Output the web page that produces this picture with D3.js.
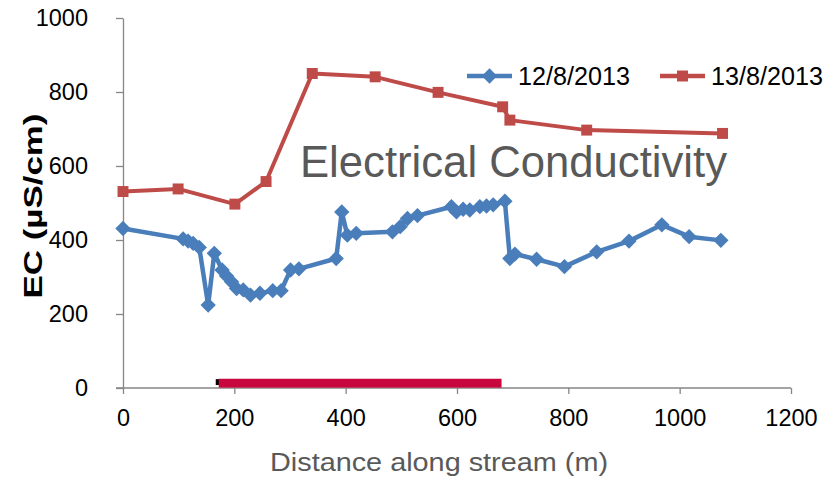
<!DOCTYPE html>
<html>
<head>
<meta charset="utf-8">
<script src="https://cdn.jsdelivr.net/npm/d3@7"></script>
<style>
  body { margin: 0; background: #fff; }
  svg { display: block; font-family: "Liberation Sans", Arial, sans-serif; }
</style>
</head>
<body>
<div id="chart"></div>
<script>
// distance along stream (m) and EC (uS/cm)
const dist1 = [0, 108, 117, 126, 137, 153, 164, 178, 186, 195, 204, 216, 229, 246, 269, 284, 301, 316, 383, 393, 403, 419, 484, 498, 511, 529, 590, 599, 611, 623, 641, 653, 665, 686, 695, 704, 743, 793, 851, 909, 968, 1017, 1074];
const ec1   = [431, 403, 397, 391, 380, 224, 364, 319, 303, 287, 269, 265, 251, 256, 263, 263, 319, 322, 350, 476, 413, 418, 422, 436, 458, 466, 490, 476, 483, 481, 490, 492, 495, 505, 350, 362, 348, 328, 368, 397, 441, 409, 399];
const dist2 = [0, 99, 201, 257, 340, 453, 566, 682, 695, 833, 1077];
const ec2   = [531, 538, 497, 558, 850, 841, 799, 760, 724, 697, 688];
const seriesNames = ["12/8/2013", "13/8/2013"];
const xTicks = [0, 200, 400, 600, 800, 1000, 1200];
const yTicks = [0, 200, 400, 600, 800, 1000];
const reach = [172, 680]; // highlighted stretch on the x axis

const width = 839, height = 478;
const margin = {top: 18, right: 48, bottom: 90, left: 123};
const blue = "#4A7EBB", red = "#BE4B48";

const svg = d3.select("#chart").append("svg")
  .attr("width", width).attr("height", height);

const x = d3.scaleLinear().domain([0, 1200]).range([margin.left, width - margin.right]);
const y = d3.scaleLinear().domain([0, 1000]).range([height - margin.bottom, margin.top]);

// axes
const xAxis = svg.append("g")
  .attr("transform", `translate(0,${y(0)})`)
  .call(d3.axisBottom(x).tickValues(xTicks).tickFormat(d3.format("d"))
    .tickSize(6).tickSizeOuter(0).tickPadding(15));
const yAxis = svg.append("g")
  .attr("transform", `translate(${x(0)},0)`)
  .call(d3.axisLeft(y).tickValues(yTicks).tickFormat(d3.format("d"))
    .tickSize(7).tickSizeOuter(0).tickPadding(28));

[xAxis, yAxis].forEach(a => {
  a.select(".domain").attr("stroke", "#868686").attr("stroke-width", 1.3);
  a.selectAll(".tick line").attr("stroke", "#868686").attr("stroke-width", 1.3);
  a.selectAll(".tick text").attr("fill", "#000").style("font-size", "23.5px");
});
// axis line reaches past the y axis like in excel
xAxis.select(".domain").attr("d", `M${-7 + x(0)},0H${x(1200)}`);

// highlighted reach
svg.append("rect")
  .attr("x", x(reach[0]) - 3).attr("y", y(24)).attr("width", 4).attr("height", y(8) - y(24))
  .attr("fill", "#000");
svg.append("rect")
  .attr("x", x(reach[0])).attr("y", y(25))
  .attr("width", x(reach[1]) - x(reach[0])).attr("height", y(1) - y(25))
  .attr("fill", "#C8073E");

// title inside the plot
svg.append("text")
  .attr("x", 300).attr("y", 177)
  .attr("textLength", 427).attr("lengthAdjust", "spacingAndGlyphs")
  .style("font-size", "44px").attr("fill", "#595959")
  .text("Electrical Conductivity");

const line = d3.line().x(d => x(d[0])).y(d => y(d[1]));
const pts1 = dist1.map((d, i) => [d, ec1[i]]);
const pts2 = dist2.map((d, i) => [d, ec2[i]]);

const diamond = d3.symbol().type(d3.symbolDiamond2).size(150);
const square = d3.symbol().type(d3.symbolSquare).size(120);

svg.append("path").datum(pts2).attr("d", line)
  .attr("fill", "none").attr("stroke", red).attr("stroke-width", 4).attr("stroke-linejoin", "round");
svg.append("g").selectAll("path").data(pts2).join("path")
  .attr("transform", d => `translate(${x(d[0])},${y(d[1])})`)
  .attr("d", square).attr("fill", red);

svg.append("path").datum(pts1).attr("d", line)
  .attr("fill", "none").attr("stroke", blue).attr("stroke-width", 4.5).attr("stroke-linejoin", "round");
svg.append("g").selectAll("path").data(pts1).join("path")
  .attr("transform", d => `translate(${x(d[0])},${y(d[1])})`)
  .attr("d", diamond).attr("fill", blue);

// legend
const legend = svg.append("g").attr("transform", "translate(467,76)");
[[blue, diamond, 0], [red, square, 193]].forEach((s, i) => {
  const g = legend.append("g").attr("transform", `translate(${s[2]},0)`);
  g.append("line").attr("x1", 0).attr("x2", 45).attr("stroke", s[0]).attr("stroke-width", 4.5);
  g.append("path").attr("transform", "translate(22.5,0)").attr("d", s[1]).attr("fill", s[0]);
  g.append("text").attr("x", 51).attr("y", 9)
    .attr("textLength", 112).attr("lengthAdjust", "spacingAndGlyphs")
    .style("font-size", "25px").attr("fill", "#000")
    .text(seriesNames[i]);
});

// axis titles
svg.append("text")
  .attr("transform", `translate(42,${(y(0) + y(1000)) / 2 + 3}) rotate(-90)`)
  .attr("text-anchor", "middle")
  .attr("textLength", 185).attr("lengthAdjust", "spacingAndGlyphs")
  .style("font-size", "25px").style("font-weight", "bold")
  .text("EC (µS/cm)");
svg.append("text")
  .attr("x", 439).attr("y", 471).attr("text-anchor", "middle")
  .attr("textLength", 338).attr("lengthAdjust", "spacingAndGlyphs")
  .style("font-size", "25px").attr("fill", "#595959")
  .text("Distance along stream (m)");
</script>
</body>
</html>
